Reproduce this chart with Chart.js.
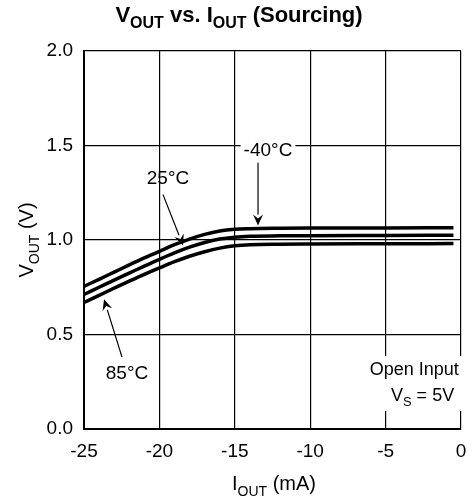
<!DOCTYPE html>
<html>
<head>
<meta charset="utf-8">
<script src="https://cdn.jsdelivr.net/npm/chart.js@4/dist/chart.umd.min.js"></script>
<style>
  html, body { margin: 0; padding: 0; background: #fff; }
  #wrap { width: 474px; height: 502px; position: relative; }
</style>
</head>
<body>
<div id="wrap"><canvas id="c" width="474" height="502"></canvas></div>
<script>
// ---- data ----
const currents = [-25, -24, -23, -22, -21, -20, -19, -18, -17, -16, -15, -14, -12, -10, -5, -0.5];
const vMinus40 = [0.755, 0.792, 0.830, 0.868, 0.905, 0.940, 0.975, 1.005, 1.030, 1.048, 1.057, 1.060, 1.062, 1.063, 1.064, 1.065];
const v25      = [0.712, 0.750, 0.788, 0.825, 0.862, 0.898, 0.932, 0.962, 0.987, 1.005, 1.015, 1.020, 1.022, 1.023, 1.024, 1.025];
const v85      = [0.670, 0.707, 0.745, 0.782, 0.818, 0.852, 0.885, 0.914, 0.938, 0.957, 0.969, 0.975, 0.978, 0.979, 0.980, 0.981];
const xTicks = [-25, -20, -15, -10, -5, 0];
const yTicks = [0.0, 0.5, 1.0, 1.5, 2.0];

const FONT = "'Liberation Sans', Arial, sans-serif";

function series(vals) {
  return currents.map((x, i) => ({ x: x, y: vals[i] }));
}
function ds(label, vals) {
  return {
    label: label, data: series(vals),
    borderColor: '#000', borderWidth: 3.5, pointRadius: 0,
    cubicInterpolationMode: 'monotone', fill: false
  };
}

// annotations in data units
const labels = [
  { text: '-40°C', x: -12.8, y: 1.478, bg: true },
  { text: '25°C', x: -19.43, y: 1.33 },
  { text: '85°C', x: -22.15, y: 0.30 }
];
const arrows = [
  { x1: -13.46, y1: 1.409, x2: -13.46, y2: 1.077 },
  { x1: -19.76, y1: 1.240, x2: -18.43, y2: 0.971 },
  { x1: -22.48, y1: 0.380, x2: -23.67, y2: 0.686 }
];

function drawRich(ctx, parts, x, y, align, size, bold, subSize) {
  const w = bold ? 'bold ' : '';
  subSize = subSize || Math.round(size * 0.7);
  let total = 0;
  parts.forEach(p => {
    ctx.font = w + (p[1] ? subSize : size) + 'px ' + FONT;
    total += ctx.measureText(p[0]).width;
  });
  let cx = align === 'center' ? x - total / 2 : x;
  ctx.textAlign = 'left';
  ctx.textBaseline = 'alphabetic';
  parts.forEach(p => {
    ctx.font = w + (p[1] ? subSize : size) + 'px ' + FONT;
    ctx.fillText(p[0], cx, y + (p[1] ? size * 0.28 : 0));
    cx += ctx.measureText(p[0]).width;
  });
  return total;
}

const decor = {
  id: 'decor',
  afterDatasetsDraw(chart) {
    const ctx = chart.ctx;
    const xs = chart.scales.x, ys = chart.scales.y;
    ctx.save();
    ctx.fillStyle = '#000';
    labels.forEach(l => {
      const px = xs.getPixelForValue(l.x), py = ys.getPixelForValue(l.y);
      ctx.font = '19px ' + FONT;
      const w = ctx.measureText(l.text).width;
      if (l.bg) {
        ctx.fillStyle = '#fff';
        ctx.fillRect(px - w / 2 - 3, py - 11, w + 6, 22);
        ctx.fillStyle = '#000';
      }
      ctx.textAlign = 'center';
      ctx.textBaseline = 'middle';
      ctx.fillText(l.text, px, py + 1);
    });
    // Open Input box
    const by1 = ys.getPixelForValue(0.317), by2 = ys.getPixelForValue(0.185);
    const cx = xs.getPixelForValue(-3.1);
    ctx.font = '18px ' + FONT;
    const tw = ctx.measureText('Open Input').width;
    ctx.fillStyle = '#fff';
    ctx.fillRect(cx - tw / 2 - 4, by1 - 13, tw + 8, by2 - by1 + 30);
    ctx.fillStyle = '#000';
    ctx.textAlign = 'center';
    ctx.textBaseline = 'middle';
    ctx.fillText('Open Input', cx, by1 + 1);
    drawRich(ctx, [['V', false], ['S', true], [' = 5V', false]], xs.getPixelForValue(-2.55), by2 + 7, 'center', 18, false, 13);
    // arrows
    ctx.strokeStyle = '#000';
    ctx.lineWidth = 1.2;
    arrows.forEach(a => {
      const x1 = xs.getPixelForValue(a.x1), y1 = ys.getPixelForValue(a.y1);
      const x2 = xs.getPixelForValue(a.x2), y2 = ys.getPixelForValue(a.y2);
      const ang = Math.atan2(y2 - y1, x2 - x1);
      const L = 11, H = 5;
      const bxp = x2 - L * Math.cos(ang), byp = y2 - L * Math.sin(ang);
      ctx.beginPath();
      ctx.moveTo(x1, y1); ctx.lineTo(bxp, byp); ctx.stroke();
      ctx.beginPath();
      ctx.moveTo(x2, y2);
      ctx.lineTo(bxp + H * Math.sin(ang), byp - H * Math.cos(ang));
      ctx.lineTo(x2 - 7 * Math.cos(ang), y2 - 7 * Math.sin(ang));
      ctx.lineTo(bxp - H * Math.sin(ang), byp + H * Math.cos(ang));
      ctx.closePath(); ctx.fill();
    });
    ctx.restore();
  },
  afterDraw(chart) {
    const ctx = chart.ctx;
    ctx.save();
    ctx.fillStyle = '#000';
    drawRich(ctx, [['V', false], ['OUT', true], [' vs. I', false], ['OUT', true], [' (Sourcing)', false]], 239, 22, 'center', 22, true, 16);
    drawRich(ctx, [['I', false], ['OUT', true], [' (mA)', false]], 274, 490, 'center', 20, false, 14);
    ctx.translate(33, 240);
    ctx.rotate(-Math.PI / 2);
    drawRich(ctx, [['V', false], ['OUT', true], [' (V)', false]], 0, 0, 'center', 20, false, 14);
    ctx.restore();
  }
};

new Chart(document.getElementById('c'), {
  type: 'line',
  data: { datasets: [ds('-40°C', vMinus40), ds('25°C', v25), ds('85°C', v85)] },
  options: {
    responsive: false,
    animation: false,
    layout: { padding: { top: 51, right: 13, left: 0, bottom: 0 } },
    plugins: { legend: { display: false }, title: { display: false }, tooltip: { enabled: false } },
    scales: {
      x: {
        type: 'linear', min: -25, max: 0,
        afterBuildTicks: s => { s.ticks = xTicks.map(v => ({ value: v })); },
        afterFit: s => { s.height = 73; s.paddingLeft = 0; s.paddingRight = 0; },
        grid: { color: '#000', lineWidth: 1.2, drawTicks: false },
        border: { color: '#000', width: 2 },
        ticks: { color: '#000', font: { family: FONT, size: 19 }, padding: 11, maxRotation: 0 }
      },
      y: {
        type: 'linear', min: 0, max: 2,
        afterBuildTicks: s => { s.ticks = yTicks.map(v => ({ value: v })); },
        afterFit: s => { s.width = 84; s.paddingTop = 0; s.paddingBottom = 0; },
        grid: { color: '#000', lineWidth: 1.2, drawTicks: false },
        border: { color: '#000', width: 2 },
        ticks: { color: '#000', font: { family: FONT, size: 19 }, padding: 11, callback: v => v.toFixed(1) }
      }
    }
  },
  plugins: [decor]
});
</script>
</body>
</html>
